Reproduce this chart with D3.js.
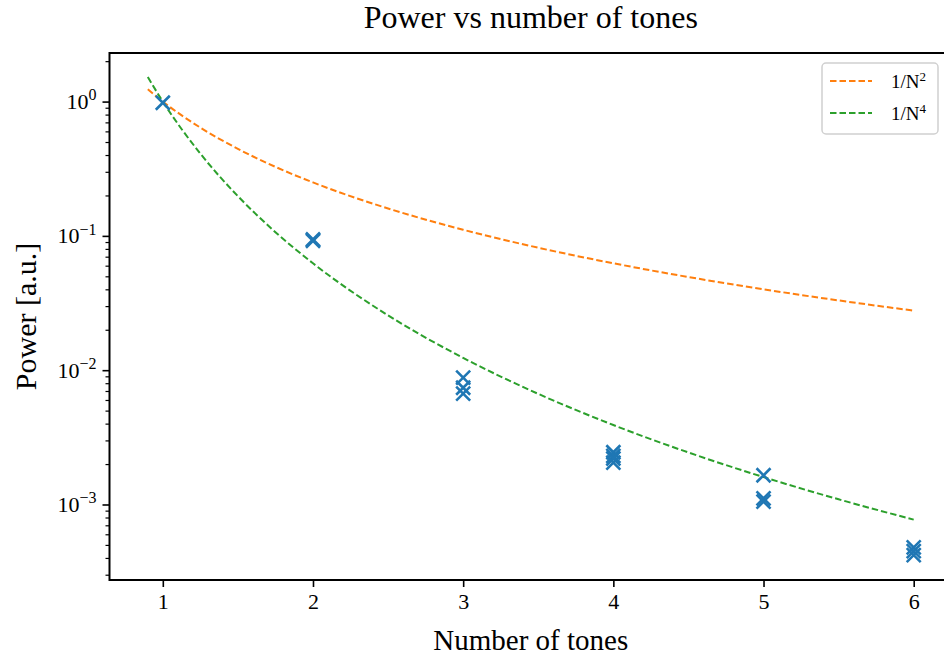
<!DOCTYPE html>
<html>
<head>
<meta charset="utf-8">
<script src="https://cdn.jsdelivr.net/npm/d3@7/dist/d3.min.js"></script>
<style>
  html, body { margin: 0; padding: 0; background: #fff; }
  svg { display: block; font-family: "Liberation Serif", "DejaVu Serif", serif; }
</style>
</head>
<body>
<svg id="chart" width="944" height="660"></svg>
<script>
// Measured power for each number of tones (several runs per tone count)
const tones = [1, 2, 2, 3, 3, 3, 4, 4, 4, 4, 5, 5, 5, 6, 6, 6];
const power = [0.98, 0.094, 0.092, 0.0088, 0.0074, 0.0067,
               0.00245, 0.0023, 0.0022, 0.00205,
               0.00165, 0.00111, 0.00105,
               0.00048, 0.00045, 0.00042];

// Reference scaling laws, tabulated
const refN = [0.9, 1, 1.25, 1.5, 1.75, 2, 2.5, 3, 3.5, 4, 4.5, 5, 5.5, 6];
const invN2 = [1.2346, 1, 0.64, 0.44444, 0.32653, 0.25, 0.16, 0.11111, 0.081633,
               0.0625, 0.049383, 0.04, 0.033058, 0.027778];
const invN4 = [1.5242, 1, 0.4096, 0.19753, 0.10662, 0.0625, 0.0256, 0.012346,
               0.0066639, 0.0039063, 0.0024387, 0.0016, 0.0010928, 0.00077160];
const refNames = ["1/N", "1/N"];
const refPowers = ["2", "4"];
const refColors = ["#ff7f0e", "#2ca02c"];

const xTicks = [1, 2, 3, 4, 5, 6];
const yExponents = [0, -1, -2, -3];

const svg = d3.select("#chart");
const plotLeft = 109.5, plotRight = 952, plotTop = 53, plotBottom = 580;

const x = d3.scaleLinear().domain([0.645, 6.255]).range([plotLeft, plotRight]);
const y = d3.scaleLog().domain([2.74e-4, 2.3]).range([plotBottom, plotTop]);

// Reference lines
const line = d3.line()
  .x(d => x(d[0]))
  .y(d => y(d[1]))
  .curve(d3.curveMonotoneX);

[invN2, invN4].forEach((vals, i) => {
  svg.append("path")
    .datum(refN.map((n, j) => [n, vals[j]]))
    .attr("d", line)
    .attr("fill", "none")
    .attr("stroke", refColors[i])
    .attr("stroke-width", 2)
    .attr("stroke-dasharray", "6.5,3");
});

// Data markers (x shape)
const ms = 7;
const marks = svg.append("g")
  .attr("stroke", "#1f77b4")
  .attr("stroke-width", 2.6)
  .attr("fill", "none");
tones.forEach((t, i) => {
  const cx = x(t), cy = y(power[i]);
  marks.append("path")
    .attr("d", `M${cx - ms},${cy - ms}L${cx + ms},${cy + ms}M${cx - ms},${cy + ms}L${cx + ms},${cy - ms}`);
});

// X axis
const xAxis = svg.append("g")
  .attr("transform", `translate(0,${plotBottom})`)
  .call(d3.axisBottom(x).tickValues(xTicks).tickSize(7).tickPadding(6).tickFormat(d3.format("d")));
xAxis.select(".domain").remove();
xAxis.selectAll(".tick line").attr("stroke", "#000").attr("stroke-width", 1.6);
xAxis.selectAll(".tick text")
  .attr("font-family", "Liberation Serif")
  .attr("font-size", 22)
  .attr("fill", "#000");

// Y axis: major ticks with power-of-ten labels, plus minor ticks
const minor = [];
for (let e = -4; e <= 0; e++) {
  for (let m = 2; m <= 9; m++) {
    const v = m * Math.pow(10, e);
    if (v >= y.domain()[0] && v <= y.domain()[1]) minor.push(v);
  }
}
const yMinor = svg.append("g")
  .attr("transform", `translate(${plotLeft},0)`)
  .call(d3.axisLeft(y).tickValues(minor).tickSize(4).tickFormat(""));
yMinor.select(".domain").remove();
yMinor.selectAll(".tick line").attr("stroke", "#000").attr("stroke-width", 1.2);

const yMajor = svg.append("g")
  .attr("transform", `translate(${plotLeft},0)`)
  .call(d3.axisLeft(y).tickValues(yExponents.map(e => Math.pow(10, e))).tickSize(7).tickFormat(""));
yMajor.select(".domain").remove();
yMajor.selectAll(".tick line").attr("stroke", "#000").attr("stroke-width", 1.6);
yMajor.selectAll(".tick").each(function(d, i) {
  const e = yExponents[i];
  const t = d3.select(this).append("text")
    .attr("x", -13)
    .attr("dy", "0.32em")
    .attr("text-anchor", "end")
    .attr("font-family", "Liberation Serif")
    .attr("font-size", 22)
    .attr("fill", "#000");
  t.append("tspan").text("10");
  t.append("tspan")
    .attr("font-size", 16)
    .attr("dy", "-0.55em")
    .text(e < 0 ? "\u2212" + (-e) : String(e));
});

// Spines
svg.append("rect")
  .attr("x", plotLeft).attr("y", plotTop)
  .attr("width", plotRight - plotLeft).attr("height", plotBottom - plotTop)
  .attr("fill", "none")
  .attr("stroke", "#000")
  .attr("stroke-width", 2);

// Titles
svg.append("text")
  .attr("x", (plotLeft + plotRight) / 2).attr("y", 28)
  .attr("text-anchor", "middle")
  .attr("font-size", 32)
  .text("Power vs number of tones");
svg.append("text")
  .attr("x", (plotLeft + plotRight) / 2).attr("y", 650)
  .attr("text-anchor", "middle")
  .attr("font-size", 29)
  .text("Number of tones");
svg.append("text")
  .attr("transform", `translate(36,${(plotTop + plotBottom) / 2}) rotate(-90)`)
  .attr("text-anchor", "middle")
  .attr("font-size", 30)
  .text("Power [a.u.]");

// Legend
const lg = svg.append("g").attr("transform", "translate(822,63)");
lg.append("rect")
  .attr("width", 116).attr("height", 71)
  .attr("rx", 4)
  .attr("fill", "#fff")
  .attr("fill-opacity", 0.8)
  .attr("stroke", "#d0d0d0")
  .attr("stroke-width", 1.5);
refNames.forEach((name, i) => {
  const yy = 18 + i * 32;
  lg.append("line")
    .attr("x1", 8).attr("x2", 50)
    .attr("y1", yy).attr("y2", yy)
    .attr("stroke", refColors[i])
    .attr("stroke-width", 2)
    .attr("stroke-dasharray", "6.5,3");
  const t = lg.append("text")
    .attr("x", 69).attr("y", yy)
    .attr("dy", "0.35em")
    .attr("font-size", 19)
    .attr("fill", "#000");
  t.append("tspan").text(name);
  t.append("tspan").attr("font-size", 13).attr("dy", "-0.5em").text(refPowers[i]);
});
</script>
</body>
</html>
